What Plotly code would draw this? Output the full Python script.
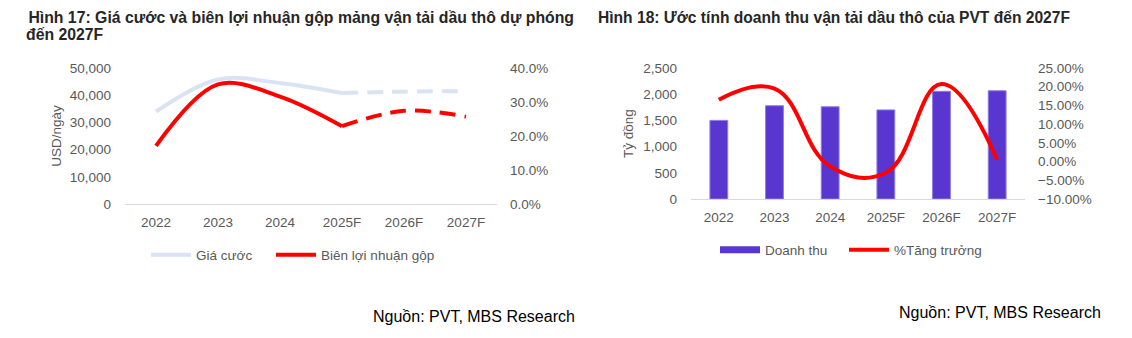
import plotly.graph_objects as go

# ---------------- data ----------------
years = ["2022", "2023", "2024", "2025F", "2026F", "2027F"]
gia_cuoc = [34000, 45800, 44500, 40800, 41300, 41500]          # USD/ngày
bien_ln = [0.171, 0.352, 0.316, 0.229, 0.274, 0.257]           # %
forecast_start = 3  # index of 2025F: dashed from here

doanh_thu = [1500, 1780, 1760, 1700, 2055, 2065]               # Tỷ đồng
tang_truong = [0.165, 0.195, -0.013, -0.030, 0.207, 0.005]     # %

FONT = "Liberation Sans, Arial, sans-serif"
GRAY = "#595959"
W, H = 1132, 338

def fx(px):
    return px / W

def fy(py):
    return 1 - py / H

fig = go.Figure()

# ---------------- left chart ----------------
hist = slice(0, forecast_start + 1)
fc = slice(forecast_start, None)
fig.add_trace(go.Scatter(x=years[hist], y=gia_cuoc[hist], mode="lines", name="Giá cước",
                         line=dict(color="#DAE3F3", width=4, shape="spline", smoothing=1),
                         xaxis="x", yaxis="y", legend="legend"))
fig.add_trace(go.Scatter(x=years[fc], y=gia_cuoc[fc], mode="lines", name="Giá cước",
                         line=dict(color="#DAE3F3", width=4, shape="spline", smoothing=1, dash="16px,9px"),
                         xaxis="x", yaxis="y", showlegend=False))
fig.add_trace(go.Scatter(x=years[hist], y=bien_ln[hist], mode="lines", name="Biên lợi nhuận gộp",
                         line=dict(color="#FF0000", width=4, shape="spline", smoothing=1),
                         xaxis="x", yaxis="y2", legend="legend3"))
fig.add_trace(go.Scatter(x=years[fc], y=bien_ln[fc], mode="lines", name="Biên lợi nhuận gộp",
                         line=dict(color="#FF0000", width=4, shape="spline", smoothing=1, dash="16px,9px"),
                         xaxis="x", yaxis="y2", showlegend=False))

# ---------------- right chart ----------------
fig.add_trace(go.Bar(x=years, y=doanh_thu, name="Doanh thu", width=0.32,
                     marker=dict(color="#5A36D0", line=dict(color="#8C7BE6", width=1)),
                     xaxis="x2", yaxis="y3", showlegend=False))
# legend-only entry giving the wide rectangular swatch of the bar series
fig.add_trace(go.Scatter(x=[None], y=[None], mode="lines", name="Doanh thu",
                         line=dict(color="#5A36D0", width=7),
                         xaxis="x2", yaxis="y3", legend="legend2"))
fig.add_trace(go.Scatter(x=years, y=tang_truong, mode="lines", name="%Tăng trưởng",
                         line=dict(color="#FF0000", width=4, shape="spline", smoothing=1.2),
                         xaxis="x2", yaxis="y4", legend="legend4"))

tickfont = dict(family=FONT, size=13.5, color=GRAY)

def legend_at(px, py):
    return dict(orientation="h", x=fx(px), y=fy(py), xanchor="left", yanchor="middle",
                font=dict(family=FONT, size=13.5, color=GRAY), bgcolor="rgba(0,0,0,0)",
                itemwidth=40, borderwidth=0)

fig.update_layout(
    width=W, height=H,
    margin=dict(l=0, r=0, t=0, b=0),
    paper_bgcolor="white", plot_bgcolor="white",
    font=dict(family=FONT, color=GRAY),
    xaxis=dict(domain=[fx(125), fx(497)], anchor="y", type="category", range=[-0.5, 5.5],
               showline=True, linecolor="#D9D9D9", linewidth=1, automargin=False,
               showgrid=False, ticks="", tickfont=tickfont, ticklabelstandoff=6),
    yaxis=dict(domain=[fy(204), fy(68)], anchor="x", range=[0, 50000], dtick=10000, tickformat=",",
               showgrid=False, zeroline=False, tickfont=tickfont, ticklabelstandoff=13, automargin=False,
               title=dict(text="USD/ngày", font=dict(family=FONT, size=13.5, color=GRAY), standoff=4)),
    yaxis2=dict(overlaying="y", side="right", anchor="x", range=[0, 0.4], dtick=0.1, tickformat=".1%",
                showgrid=False, zeroline=False, tickfont=tickfont, ticklabelstandoff=12, automargin=False),
    xaxis2=dict(domain=[fx(691), fx(1025)], anchor="y3", type="category", range=[-0.5, 5.5],
                showline=True, linecolor="#D9D9D9", linewidth=1, automargin=False,
                showgrid=False, ticks="", tickfont=tickfont, ticklabelstandoff=6),
    yaxis3=dict(domain=[fy(199), fy(68)], anchor="x2", range=[0, 2500], dtick=500, tickformat=",",
                showgrid=False, zeroline=False, tickfont=tickfont, ticklabelstandoff=13, automargin=False,
                title=dict(text="Tỷ đồng", font=dict(family=FONT, size=13.5, color=GRAY), standoff=6)),
    yaxis4=dict(overlaying="y3", side="right", anchor="x2", range=[-0.10, 0.25], dtick=0.05, tickformat=".2%",
                showgrid=False, zeroline=False, tickfont=tickfont, ticklabelstandoff=12, automargin=False),
    legend=legend_at(146, 255),
    legend3=legend_at(271, 255),
    legend2=legend_at(715, 250),
    legend4=legend_at(844, 250),
    showlegend=True,
)

annots = [
    dict(text="<b> Hình 17: Giá cước và biên lợi nhuận gộp mảng vận tải dầu thô dự phóng</b>",
         x=fx(22), y=fy(17), size=15.8),
    dict(text="<b>đến 2027F</b>", x=fx(24), y=fy(35), size=15.8),
    dict(text="<b>Hình 18: Ước tính doanh thu vận tải dầu thô của PVT đến 2027F</b>",
         x=fx(596), y=fy(17), size=15.6),
]
for a in annots:
    fig.add_annotation(xref="paper", yref="paper", x=a["x"], y=a["y"], text=a["text"], showarrow=False,
                       xanchor="left", yanchor="middle", align="left",
                       font=dict(family=FONT, size=a["size"], color="#262626"))
for sx, sy in [(371, 316), (897, 312)]:
    fig.add_annotation(xref="paper", yref="paper", x=fx(sx), y=fy(sy), text="Nguồn: PVT, MBS Research",
                       showarrow=False, xanchor="left", yanchor="middle",
                       font=dict(family=FONT, size=16, color="#000000"))

fig.write_html("out.html", config={"displayModeBar": False})
